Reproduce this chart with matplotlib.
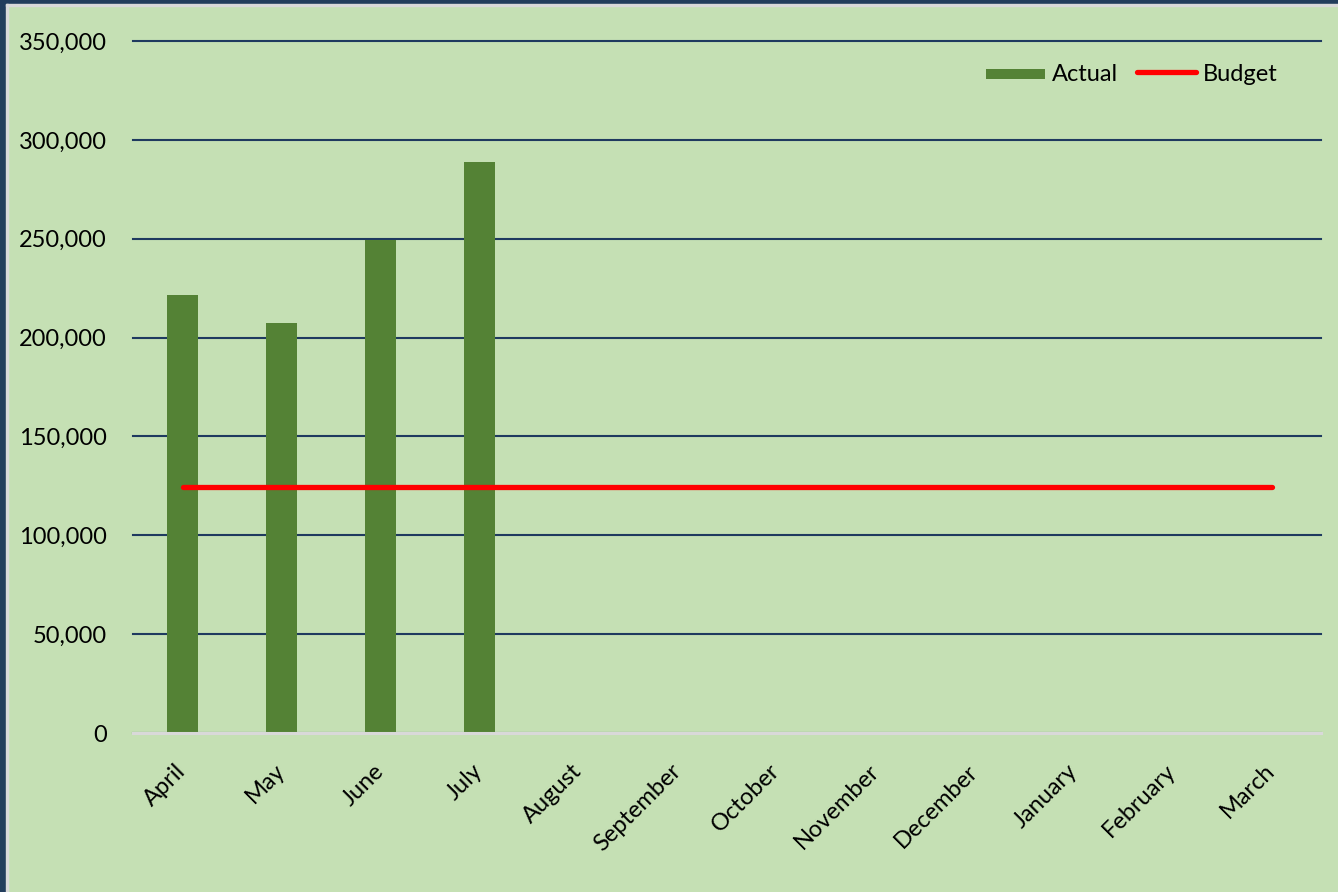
import matplotlib.pyplot as plt
from matplotlib.patches import Rectangle
from matplotlib.ticker import FuncFormatter

months = ["April", "May", "June", "July", "August", "September", "October",
          "November", "December", "January", "February", "March"]
actual = [221500, 207300, 249600, 288700]
budget = [124400] * 12

bg = "#C5E0B4"
plt.rcParams["font.family"] = ["Lato", "DejaVu Sans"]

fig = plt.figure(figsize=(13.38, 8.92), dpi=100, facecolor=bg)
ax = fig.add_axes([133 / 1338, 1 - 733 / 892, (1321 - 133) / 1338, (733 - 41) / 892])
ax.set_facecolor(bg)

x = list(range(len(months)))
ax.bar(x[:len(actual)], actual, width=0.31, color="#548235", label="Actual", zorder=3)
ax.plot(x, budget, color="#FF0000", lw=3.8, solid_capstyle="round", label="Budget", zorder=4)

ax.set_xlim(-0.5, len(months) - 0.5)
ax.set_ylim(0, 350000)
ax.set_yticks(range(0, 350001, 50000))
ax.yaxis.set_major_formatter(FuncFormatter(lambda v, p: f"{int(v):,}"))
ax.grid(axis="y", color="#1F3A5F", lw=1.5, zorder=1)
ax.set_axisbelow(True)
for gl in ax.get_ygridlines():
    gl.set_clip_on(False)

for s in ["top", "right", "left"]:
    ax.spines[s].set_visible(False)
ax.spines["bottom"].set_color("#D9D9D9")
ax.spines["bottom"].set_linewidth(2.2)
ax.spines["bottom"].set_zorder(5)

ax.set_xticks(x)
ax.set_xticklabels(months, rotation=45, rotation_mode="anchor", fontsize=17)
for lab in ax.get_xticklabels():
    lab.set_ha("right")
    lab.set_va("center")
ax.tick_params(axis="x", length=0, pad=25)
ax.tick_params(axis="y", length=0, pad=19, labelsize=17)

handles, labels = ax.get_legend_handles_labels()
order = [labels.index("Actual"), labels.index("Budget")]
leg = ax.legend([handles[i] for i in order], [labels[i] for i in order],
                loc="center right", ncol=2, frameon=False, fontsize=17,
                bbox_to_anchor=(0.9638, 0.952), borderpad=0, borderaxespad=0,
                handlelength=2.5, handletextpad=0.3, columnspacing=0.8)
for h in leg.legend_handles:
    if isinstance(h, Rectangle):
        h.set_height(7)
        h.set_y(h.get_y() + 1.5)

# dark frame on the left and top, as in the source image
fig.patches.append(Rectangle((0, 0), 6 / 1338, 1, transform=fig.transFigure,
                             color="#223D5C", zorder=10))
fig.patches.append(Rectangle((0, 1 - 4 / 892), 1, 4 / 892, transform=fig.transFigure,
                             color="#223D5C", zorder=10))
fig.patches.append(Rectangle((6 / 1338, 0), 2 / 1338, 1 - 4 / 892, transform=fig.transFigure,
                             color="#D9D9D9", zorder=10))
fig.patches.append(Rectangle((6 / 1338, 1 - 6 / 892), 1, 2 / 892, transform=fig.transFigure,
                             color="#D9D9D9", zorder=10))

fig.savefig("out.png", dpi=100, facecolor=bg)
